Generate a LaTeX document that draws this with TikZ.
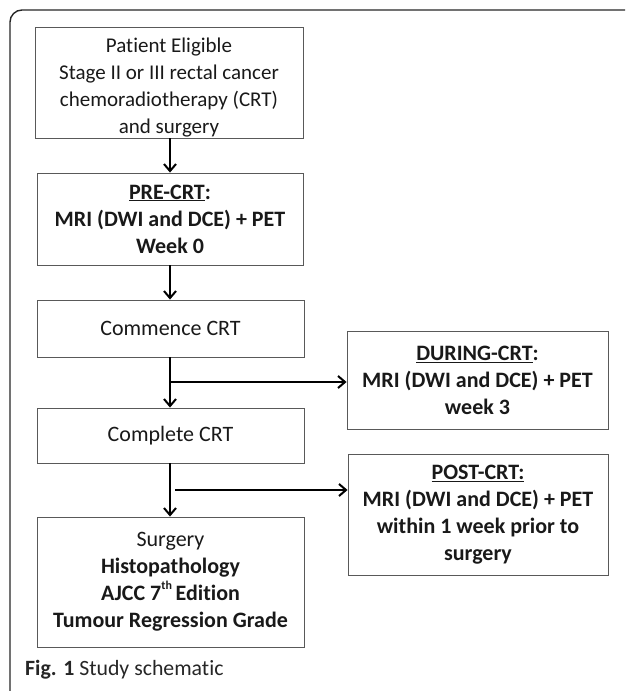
\documentclass[tikz,border=0pt]{standalone}
\usepackage{fontspec}
\setmainfont{Carlito}[Ligatures=NoCommon]
\usetikzlibrary{arrows.meta}
\newcommand{\hisup}[1]{\raisebox{1.05ex}{\fontsize{12}{12}\selectfont #1}\,}
\newcommand{\lowered}[2]{\raisebox{-#1}[\height][\depth]{\begin{tabular}{@{}c@{}}#2\end{tabular}}}
\begin{document}
\begin{tikzpicture}[x=1pt,y=-1pt,
  box/.style={draw=black!65,line width=0.9pt,align=center,inner sep=0pt,font=\fontsize{22}{27}\selectfont,text=black!90},
  flow/.style={line width=2.2pt,-{Straight Barb[length=7pt,width=12pt,line width=2pt]}},
  frame/.style={line width=1.4pt,black!85,rounded corners=12pt}]
\useasboundingbox (0,0) rectangle (625,691);
\draw[frame] (10,691) -- (10,10) -- (625,10);
\node[box,font=\fontsize{21}{27}\selectfont,minimum width=268,minimum height=111] (elig) at (169,82.5)
  {\lowered{5pt}{Patient Eligible\\Stage II or III rectal cancer\\chemoradiotherapy (CRT)\\and surgery}};
\node[box,minimum width=266,minimum height=92] (pre) at (170,219)
  {\textbf{\underline{PRE-CRT}:}\\\textbf{MRI (DWI and DCE) + PET}\\\textbf{Week 0}};
\node[box,minimum width=267,minimum height=57] (comm) at (170.5,328.5) {Commence CRT};
\node[box,minimum width=267,minimum height=55] (comp) at (170.5,435.5) {Complete CRT};
\node[box,minimum width=267,minimum height=130] (surg) at (170.5,582)
  {Surgery\\\textbf{Histopathology}\\\textbf{AJCC 7\hisup{th}Edition}\\\textbf{Tumour Regression Grade}};
\node[box,minimum width=261,minimum height=98] (during) at (477.5,380)
  {\textbf{\underline{DURING-CRT}:}\\\textbf{MRI (DWI and DCE) + PET}\\\textbf{week 3}};
\node[box,minimum width=260,minimum height=121] (post) at (478,514.5)
  {\textbf{\underline{POST-CRT:}}\\\textbf{MRI (DWI and DCE) + PET}\\\textbf{within 1 week prior to}\\\textbf{surgery}};
\coordinate (b1) at (170,382);
\coordinate (b2) at (175,490);
\draw[flow] (170,0 |- elig.south) -- (170,0 |- pre.north);
\draw[flow] (170,0 |- pre.south) -- (170,0 |- comm.north);
\draw[flow] (170,0 |- comm.south) -- (170,0 |- comp.north);
\draw[flow] (170,0 |- comp.south) -- (170,0 |- surg.north);
\draw[flow] (b1) -- (b1 -| during.west);
\draw[flow] (b2) -- (b2 -| post.west);
\node[anchor=base west,inner sep=0pt,font=\fontsize{21.8}{24}\selectfont,text=black!85] (cap) at (25,675)
  {\textbf{Fig. 1} Study schematic};
\end{tikzpicture}
\end{document}
